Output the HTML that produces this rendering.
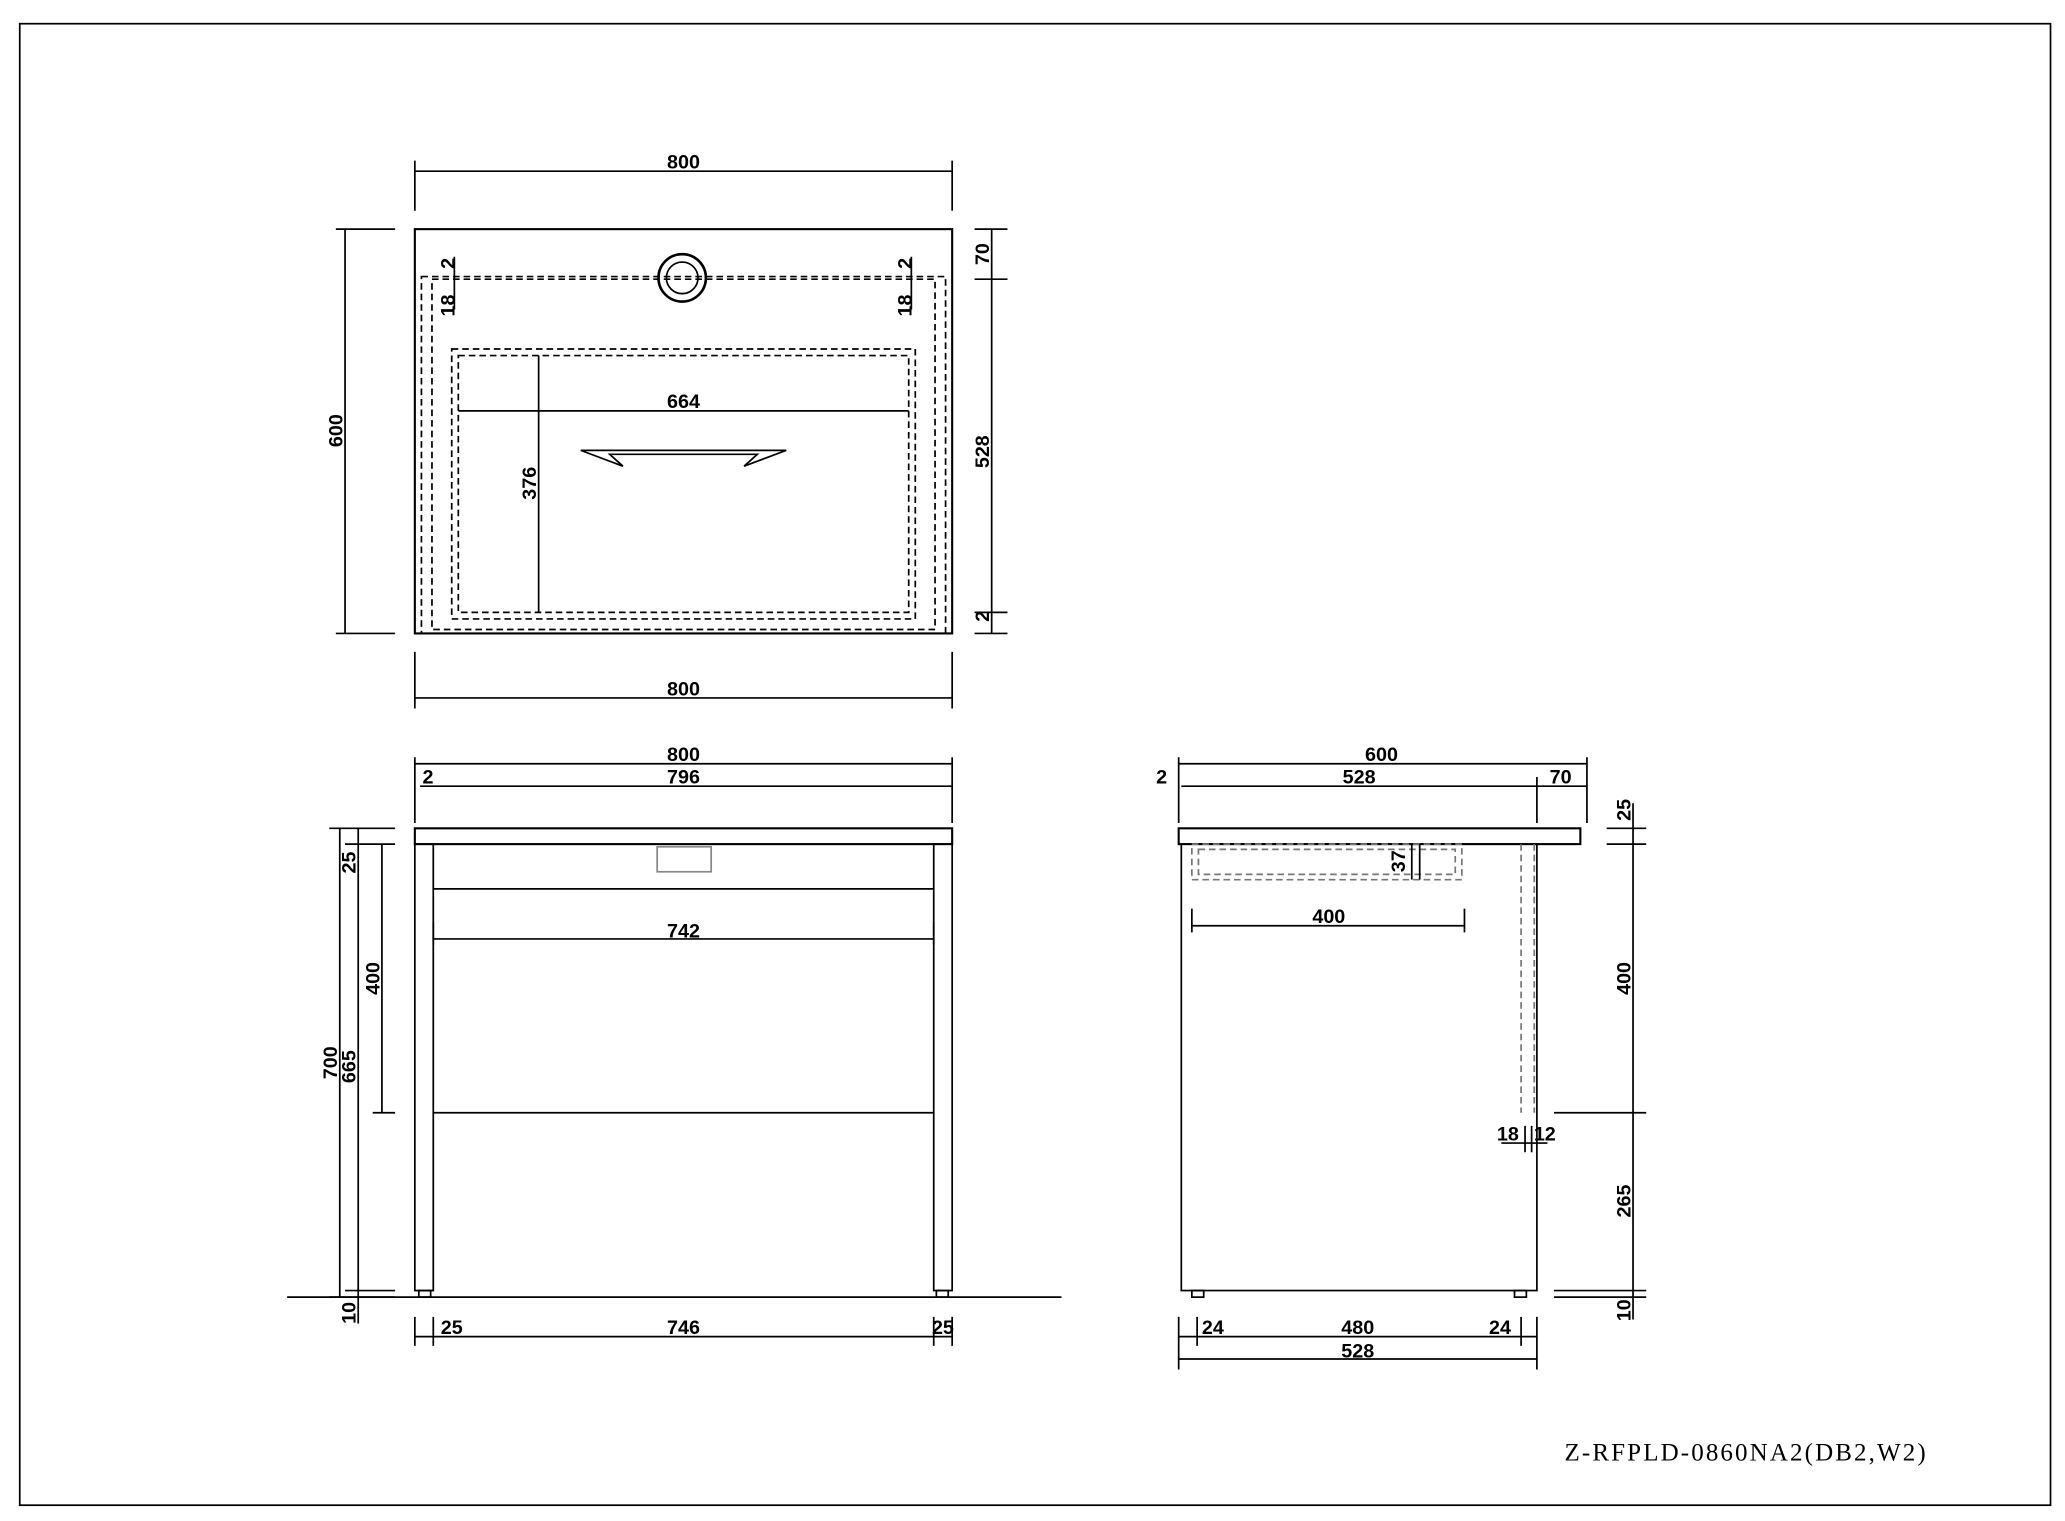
<!DOCTYPE html>
<html><head><meta charset="utf-8"><style>
html,body{margin:0;padding:0;background:#fff;}
svg{display:block;}
text{font-family:"Liberation Sans",sans-serif;font-size:15px;fill:#000;font-weight:600;}
</style></head><body>
<svg width="2065" height="1521" viewBox="0 0 1568 1155" preserveAspectRatio="none" xmlns="http://www.w3.org/2000/svg">
<g fill="none" stroke="#000" stroke-width="1.3">
<rect x="15" y="18" width="1542" height="1125"/>
<rect x="315" y="174" width="408" height="307" stroke-width="1.6"/>
<g stroke-dasharray="5,3">
<rect x="320" y="210" width="398" height="271"/>
<rect x="328" y="212" width="382" height="266"/>
<rect x="343" y="265" width="352" height="205"/>
<rect x="348" y="270" width="342" height="195"/>
</g>
<circle cx="518" cy="211" r="18" stroke-width="2"/>
<circle cx="518" cy="211" r="12"/>
<path d="M441,342 L597,342 L565,354 L575,345 L463,345 L473,354 Z"/>
<path d="M315,130 H723 M315,122 V160 M723,122 V160"/>
<path d="M315,530 H723 M315,495 V538 M723,495 V538"/>
<path d="M262,174 V481 M255,174 H300 M255,481 H300"/>
<path d="M753,174 V481 M740,174 H765 M740,212 H765 M740,465 H765 M740,481 H765"/>
<path d="M348,312 H690 M409,270 V465"/>
<path d="M345,195 V235 M692,195 V235"/>
<rect x="315" y="629" width="408" height="12" stroke-width="1.6"/>
<rect x="315" y="641" width="14" height="339"/>
<rect x="709" y="641" width="14" height="339"/>
<rect x="318" y="980" width="9" height="5"/>
<rect x="711" y="980" width="9" height="5"/>
<path d="M329,675 H709 M329,845 H709 M218,985 H806"/>
<rect x="499" y="643" width="41" height="19" stroke="#888"/>
<path d="M329,713 H709 M329,700 V718 M709,700 V718"/>
<path d="M315,580 H723 M315,575 V625 M723,575 V625 M319,597 H723"/>
<path d="M258,629 V985 M250,629 H300 M250,985 H300 M272,629 V1005 M262,641 H300 M262,980 H300 M290,641 V845 M283,845 H300"/>
<path d="M315,1015 H723 M315,1000 V1022 M329,1000 V1022 M709,1000 V1022 M723,1000 V1022"/>
<rect x="895" y="629" width="305" height="12" stroke-width="1.6"/>
<rect x="897" y="641" width="270" height="339"/>
<rect x="905" y="980" width="9" height="5"/>
<rect x="1150" y="980" width="9" height="5"/>
<g stroke-dasharray="5,3" stroke="#777">
<rect x="905" y="641" width="205" height="27"/>
<rect x="910" y="645" width="195" height="19"/>
<path d="M1155,641 V845 M1165,641 V845"/>
</g>
<path d="M905,703 H1112 M905,690 V708 M1112,690 V708"/>
<path d="M1072,641 V668 M1078,641 V668"/>
<path d="M895,580 H1205 M895,575 V625 M1205,575 V625 M897,597 H1205 M1167,590 V625"/>
<path d="M1240,610 V1002 M1220,629 H1250 M1220,641 H1250 M1180,845 H1250 M1180,980 H1250 M1180,985 H1250"/>
<path d="M1140,868 H1175 M1158,855 V875 M1163,855 V875"/>
<path d="M895,1015 H1167 M895,1032 H1167 M895,1000 V1040 M909,1000 V1022 M1155,1000 V1022 M1167,1000 V1040"/>
</g>
<text x="519" y="130" text-anchor="middle" dy="-2">800</text>
<text x="519" y="530" text-anchor="middle" dy="-2" font-size="10">800</text>
<text transform="translate(260,327) rotate(-90)" text-anchor="middle" font-size="10">600</text>
<text transform="translate(751,193) rotate(-90)" text-anchor="middle">70</text>
<text transform="translate(751,343) rotate(-90)" text-anchor="middle">528</text>
<text transform="translate(751,468) rotate(-90)" text-anchor="middle">2</text>
<text x="519" y="310" text-anchor="middle">664</text>
<text transform="translate(407,367) rotate(-90)" text-anchor="middle">376</text>
<text transform="translate(345,200) rotate(-90)" text-anchor="middle">2</text>
<text transform="translate(345,232) rotate(-90)" text-anchor="middle">18</text>
<text transform="translate(692,200) rotate(-90)" text-anchor="middle">2</text>
<text transform="translate(692,232) rotate(-90)" text-anchor="middle">18</text>
<text x="519" y="580" text-anchor="middle" dy="-2">800</text>
<text x="519" y="597" text-anchor="middle" dy="-2">796</text>
<text x="325" y="597" text-anchor="middle" dy="-2">2</text>
<text x="519" y="712" text-anchor="middle">742</text>
<text transform="translate(256,807) rotate(-90)" text-anchor="middle">700</text>
<text transform="translate(270,655) rotate(-90)" text-anchor="middle">25</text>
<text transform="translate(270,810) rotate(-90)" text-anchor="middle">665</text>
<text transform="translate(270,997) rotate(-90)" text-anchor="middle">10</text>
<text transform="translate(288,743) rotate(-90)" text-anchor="middle">400</text>
<text x="343" y="1013" text-anchor="middle">25</text>
<text x="519" y="1013" text-anchor="middle">746</text>
<text x="716" y="1013" text-anchor="middle">25</text>
<text x="1049" y="580" text-anchor="middle" dy="-2">600</text>
<text x="1032" y="597" text-anchor="middle" dy="-2">528</text>
<text x="882" y="597" text-anchor="middle" dy="-2">2</text>
<text x="1185" y="597" text-anchor="middle" dy="-2">70</text>
<text x="1009" y="701" text-anchor="middle">400</text>
<text transform="translate(1067,654) rotate(-90)" text-anchor="middle">37</text>
<text transform="translate(1238,615) rotate(-90)" text-anchor="middle">25</text>
<text transform="translate(1238,743) rotate(-90)" text-anchor="middle">400</text>
<text transform="translate(1238,912) rotate(-90)" text-anchor="middle">265</text>
<text transform="translate(1238,995) rotate(-90)" text-anchor="middle">10</text>
<text x="1145" y="866" text-anchor="middle">18</text>
<text x="1173" y="866" text-anchor="middle">12</text>
<text x="921" y="1013" text-anchor="middle">24</text>
<text x="1031" y="1013" text-anchor="middle">480</text>
<text x="1139" y="1013" text-anchor="middle">24</text>
<text x="1031" y="1031" text-anchor="middle">528</text>
<text x="1188" y="1109" style='font-family:"Liberation Serif",serif;font-size:19px;font-weight:normal;letter-spacing:1.6px'>Z-RFPLD-0860NA2(DB2,W2)</text>
</svg>
</body></html>
